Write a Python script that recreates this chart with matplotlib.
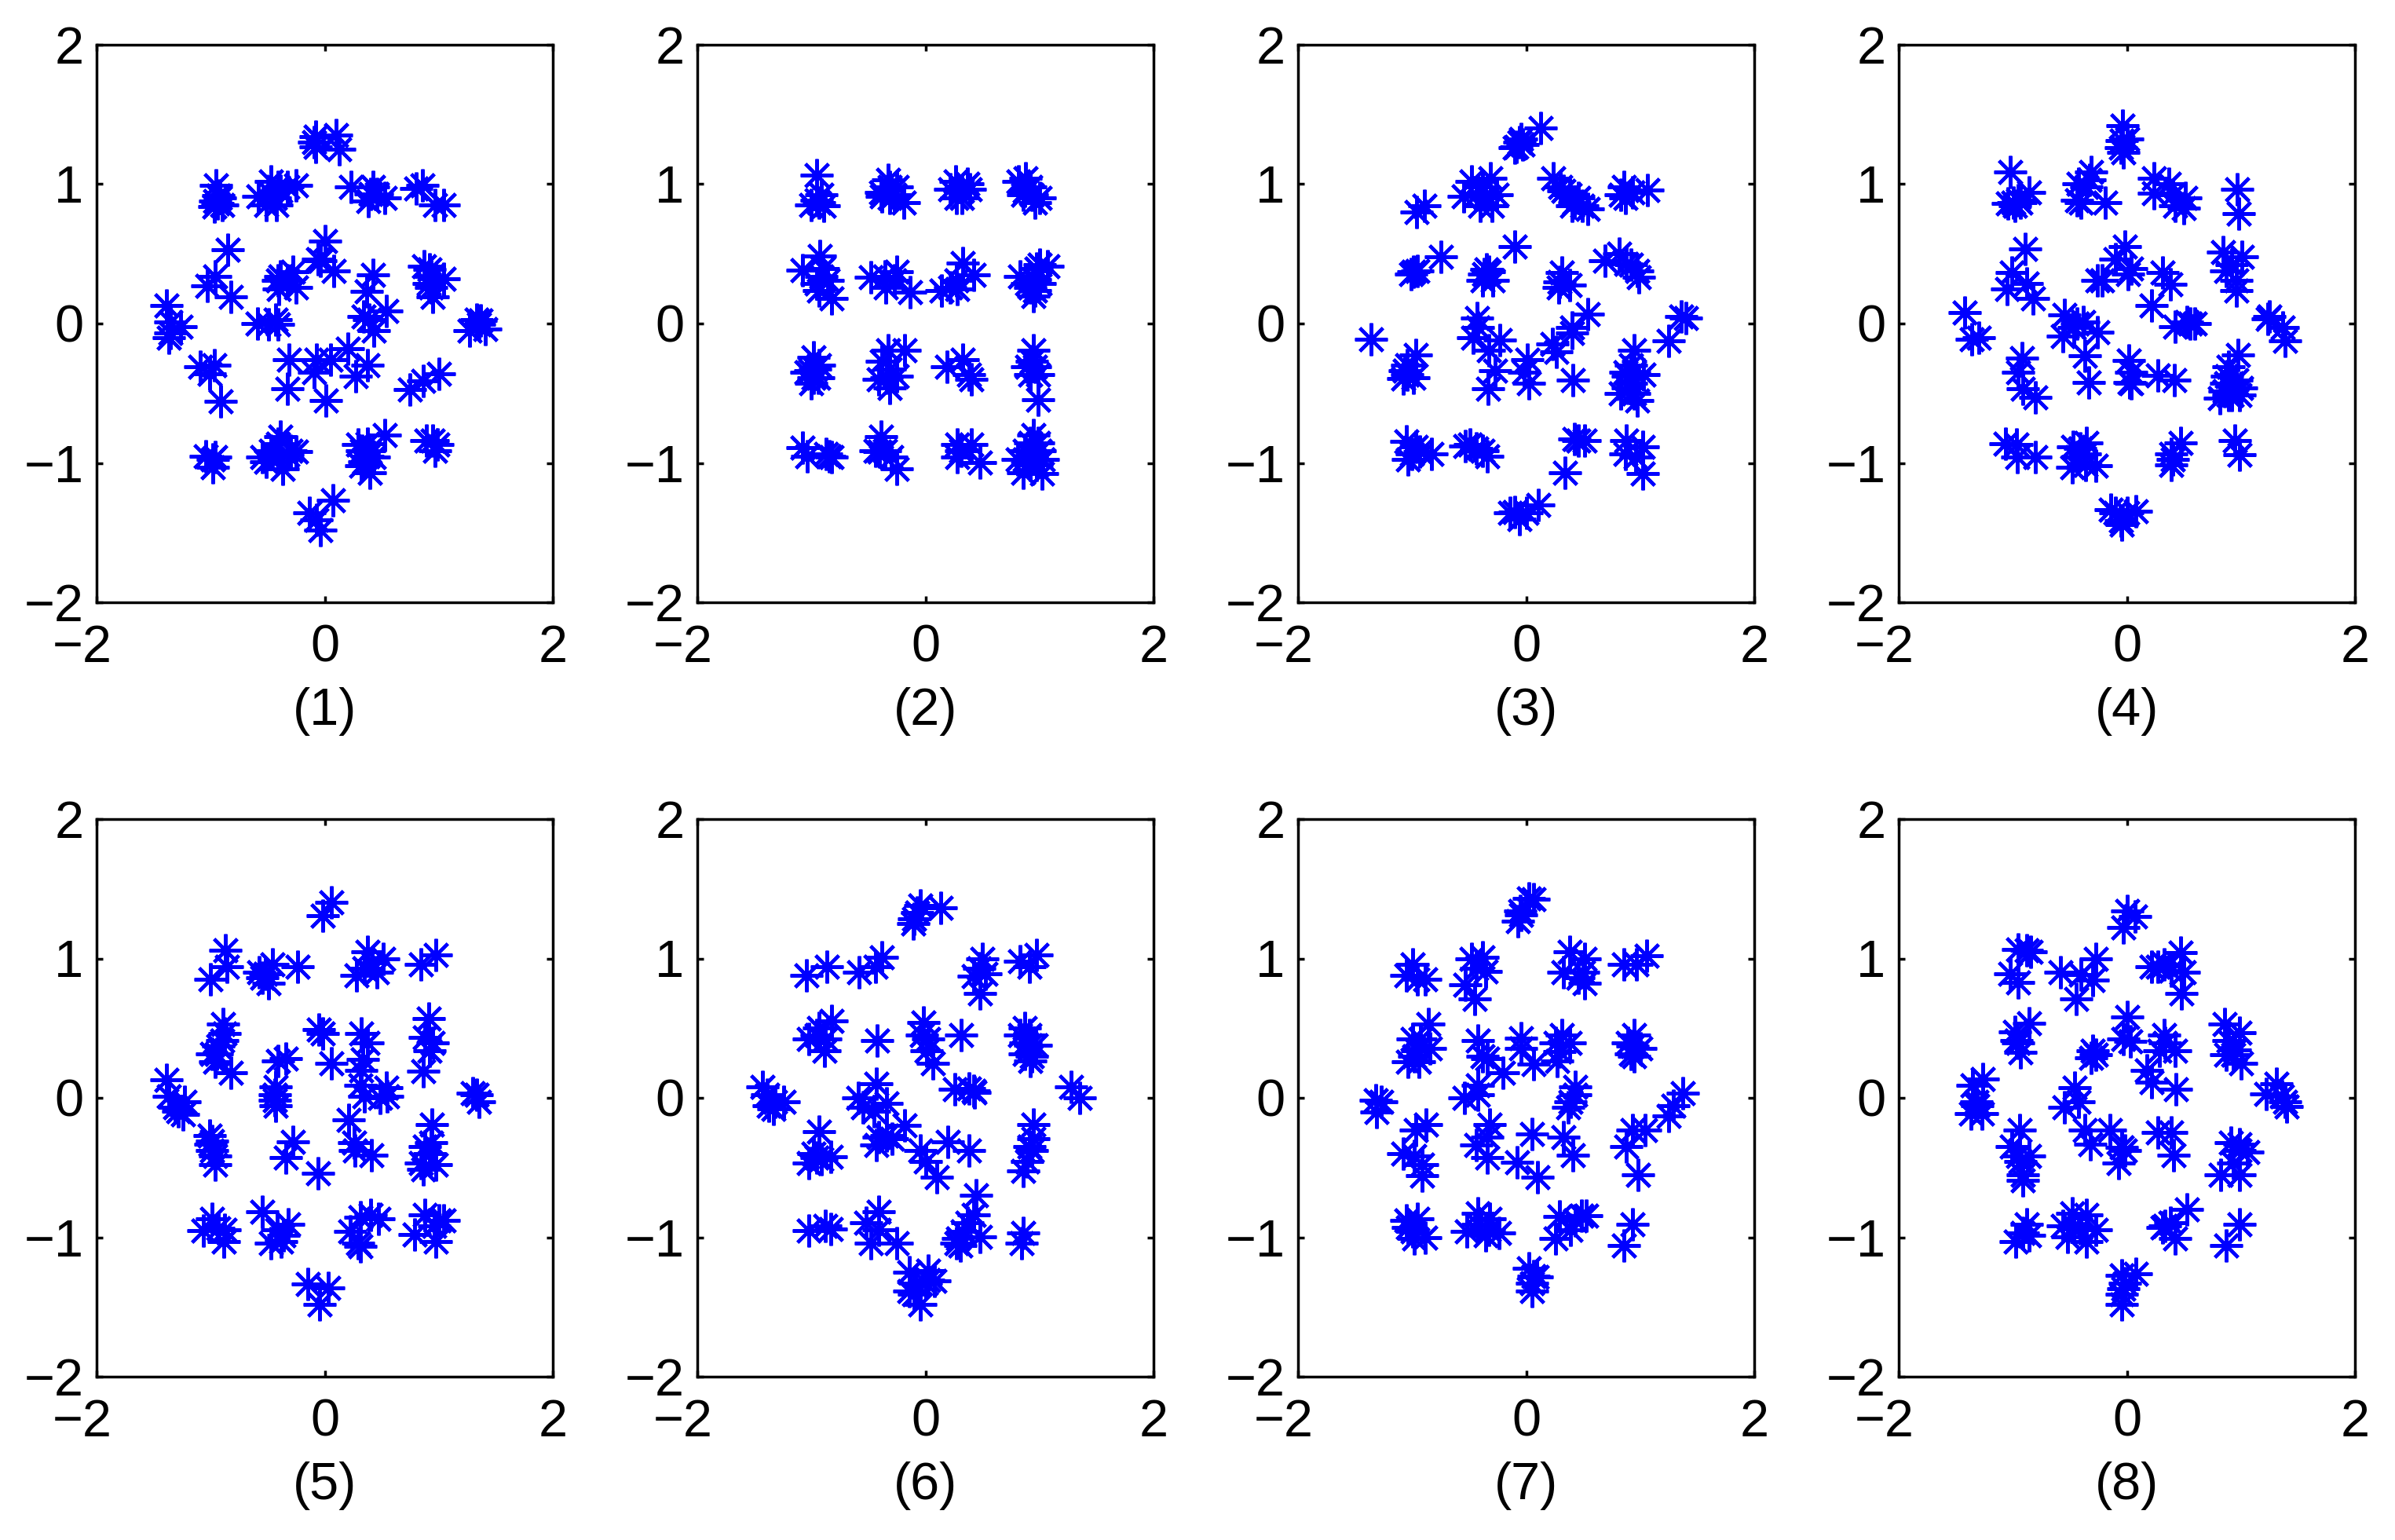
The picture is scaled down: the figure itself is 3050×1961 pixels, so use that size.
import matplotlib
matplotlib.use('Agg')
import matplotlib.pyplot as plt
from matplotlib.transforms import ScaledTranslation

plt.rcParams['font.family'] = ['Liberation Sans', 'DejaVu Sans']

# values, one (x, y) list per panel
panel_1 = [(-0.08,1.34),(-0.08,1.27),(0.10,1.35),(0.13,1.25),(-0.09,1.30),
    (-0.955,0.99),(-0.94,0.86),(-0.96,0.88),(-0.92,0.90),(-0.90,0.85),(-0.97,0.84),(-0.93,0.92),
    (-0.47,1.02),(-0.58,0.91),(-0.42,0.85),(-0.51,0.85),(-0.39,0.95),(-0.47,0.93),(-0.44,0.90),(-0.41,0.98),
    (-0.25,0.99),(-0.33,0.98),(0.23,0.98),(0.42,0.98),(0.38,0.88),(0.46,0.93),(0.53,0.90),(0.40,0.93),
    (0.80,0.97),(0.86,0.99),(0.97,0.85),(1.04,0.85),
    (-0.85,0.53),(-0.96,0.34),(-1.03,0.27),(-0.82,0.19),
    (-0.39,0.34),(-0.28,0.37),(-0.40,0.25),(-0.25,0.26),(-0.41,0.31),(-0.33,0.31),
    (0,0.59),(-0.04,0.45),(0.08,0.375),(-0.06,0.46),
    (0.42,0.35),(0.37,0.23),(0.54,0.09),(0.39,0.03),(0.43,-0.05),(0.34,0.05),
    (0.87,0.41),(0.92,0.39),(1.04,0.32),(0.93,0.26),(0.95,0.19),(0.93,0.34),(0.91,0.29),
    (1.37,0.02),(1.27,-0.05),(1.41,-0.04),(1.355,-0.005),(1.33,0.03),
    (-1.39,0.13),(-1.35,0.01),(-1.26,-0.02),(-1.37,-0.10),(-1.35,-0.07),
    (-0.59,0),(-0.43,0.03),(-0.41,-0.005),(-0.495,-0.005),
    (-0.31,-0.26),(-0.07,-0.26),(0.05,-0.26),(0.2,-0.18),(-0.09,-0.35),(0.375,-0.30),(0.275,-0.38),(-0.33,-0.47),(0.01,-0.55),
    (-1.09,-0.31),(-0.97,-0.30),(-1.01,-0.36),(-0.915,-0.555),
    (0.745,-0.475),(0.865,-0.41),(1.0,-0.36),
    (-1.04,-0.95),(-0.98,-0.975),(-0.98,-1.03),(-0.96,-0.96),
    (-0.39,-0.81),(-0.51,-0.99),(-0.37,-1.04),(-0.25,-0.92),(-0.47,-0.91),(-0.33,-0.94),(-0.41,-0.86),(-0.55,-0.96),(-0.30,-0.91),(-0.39,-0.96),
    (0.525,-0.80),(0.29,-0.87),(0.395,-1.07),(0.35,-0.99),(0.39,-0.91),(0.375,-0.86),(0.43,-0.96),(0.32,-1.02),(0.375,-0.95),(0.33,-0.91),
    (0.89,-0.84),(0.97,-0.91),(0.95,-0.84),(0.99,-0.87),
    (0.07,-1.27),(-0.135,-1.36),(-0.07,-1.41),(-0.04,-1.48)]

panel_2 = [(-0.955,1.065),(-0.93,0.87),(-1.0,0.85),(-0.89,0.845),(-0.955,0.885),(-0.915,0.925),
    (-0.315,0.98),(-0.38,0.91),(-0.19,0.87),(-0.25,0.98),(-0.33,1.03),(-0.39,0.94),(-0.275,0.925),(-0.315,0.90),
    (0.265,1.02),(0.32,0.95),(0.27,0.90),(0.365,1.0),(0.32,0.90),(0.39,0.965),(0.215,0.965),
    (0.88,1.045),(0.87,0.95),(0.96,0.87),(0.815,1.02),(0.92,0.98),(1.0,0.90),(0.855,0.925),(0.935,0.925),
    (-0.925,0.485),(-1.08,0.385),(-0.915,0.34),(-0.93,0.235),(-0.82,0.18),(-0.955,0.285),(-0.90,0.395),(-0.86,0.31),
    (-0.48,0.335),(-0.355,0.34),(-0.25,0.37),(-0.35,0.26),(-0.135,0.225),(-0.275,0.31),
    (0.14,0.235),(0.28,0.25),(0.33,0.435),(0.215,0.26),(0.42,0.35),(0.27,0.31),
    (0.83,0.34),(1.0,0.42),(1.07,0.41),(0.96,0.315),(0.95,0.195),(0.975,0.395),(0.92,0.26),(1.0,0.29),(0.96,0.235),(0.895,0.29),
    (-0.98,-0.245),(-1.01,-0.34),(-0.94,-0.39),(-0.98,-0.39),(-1.04,-0.35),(-0.97,-0.325),(-0.93,-0.30),(-1.0,-0.43),
    (-0.33,-0.19),(-0.18,-0.19),(-0.315,-0.325),(-0.41,-0.40),(-0.315,-0.46),(-0.38,-0.27),(-0.25,-0.38),(-0.34,-0.39),
    (0.19,-0.31),(0.325,-0.26),(0.405,-0.40),(0.38,-0.365),
    (0.95,-0.19),(0.935,-0.27),(0.99,-0.365),(0.895,-0.31),(0.96,-0.31),(0.92,-0.365),(0.985,-0.545),
    (-1.08,-0.89),(-1.035,-0.95),(-0.84,-0.95),(-0.82,-0.96),(-0.87,-0.935),
    (-0.39,-0.81),(-0.40,-0.92),(-0.30,-0.96),(-0.25,-1.04),(-0.44,-0.91),(-0.355,-0.91),
    (0.28,-0.87),(0.40,-0.865),(0.31,-0.91),(0.28,-0.96),(0.48,-0.995),
    (0.95,-0.80),(0.92,-0.855),(0.87,-0.975),(1.02,-1.075),(0.855,-1.07),(0.935,-0.935),(1.0,-0.91),(1.03,-0.975),(0.92,-1.015),(0.87,-0.91),(0.975,-1.015),(0.81,-0.975),(0.99,-0.855)]

panel_3 = [(0.13,1.40),(-0.045,1.325),(-0.085,1.27),(-0.06,1.30),(-0.10,1.26),(-0.03,1.285),
    (-0.96,0.80),(-0.89,0.845),
    (-0.48,1.02),(-0.315,1.045),(-0.55,0.91),(-0.385,0.98),(-0.40,0.845),(-0.30,0.845),(-0.26,0.925),(-0.44,0.925),(-0.355,0.90),
    (0.235,1.045),(0.325,0.95),(0.405,0.845),(0.54,0.825),(0.46,0.90),(0.38,0.925),(0.49,0.845),(0.30,0.98),(0.42,0.87),
    (0.855,0.98),(0.87,0.90),(0.935,0.94),(1.065,0.955),(0.83,0.925),
    (-0.75,0.48),(-0.99,0.37),(-1.01,0.355),(-0.955,0.38),
    (-0.35,0.39),(-0.385,0.31),(-0.29,0.31),(-0.33,0.37),(-0.37,0.355),(-0.10,0.55),
    (0.295,0.30),(0.285,0.26),(0.31,0.365),(0.38,0.275),
    (0.69,0.45),(0.815,0.50),(0.92,0.42),(0.99,0.33),(0.975,0.38),(0.88,0.43),
    (1.40,0.04),(1.25,-0.125),(1.36,0.05),
    (-1.36,-0.11),(-0.97,-0.225),(-1.04,-0.30),(-1.08,-0.395),(-0.99,-0.39),(-1.04,-0.365),(-1.065,-0.34),
    (-0.43,0.04),(-0.465,-0.10),(-0.425,-0.03),(-0.33,-0.19),(-0.23,-0.12),(-0.275,-0.34),(-0.335,-0.47),
    (0.01,-0.26),(-0.015,-0.35),(0.025,-0.43),(0.23,-0.145),(0.265,-0.205),(0.41,-0.405),
    (0.405,-0.03),(0.54,0.07),(0.405,-0.07),
    (0.945,-0.19),(0.92,-0.30),(1.03,-0.365),(0.895,-0.38),(0.83,-0.50),(0.975,-0.55),(0.895,-0.46),(0.95,-0.35),(0.87,-0.35),(0.92,-0.43),(0.95,-0.50),
    (-1.05,-0.845),(-0.97,-0.885),(-1.035,-0.975),(-0.83,-0.935),(-0.93,-0.92),(-1.0,-0.935),
    (-0.535,-0.88),(-0.49,-0.87),(-0.385,-0.91),(-0.34,-0.95),(-0.44,-0.895),
    (0.42,-0.83),(0.46,-0.84),(0.515,-0.84),(0.34,-1.07),
    (0.88,-0.84),(1.02,-0.885),(0.87,-0.935),(0.96,-0.96),(1.02,-1.075),
    (-0.10,-1.35),(-0.06,-1.40),(0.105,-1.30),(-0.14,-1.36),(0,-1.36)]

panel_4 = [(-0.04,1.42),(-0.045,1.31),(-0.055,1.26),(-0.03,1.23),(0,1.325),
    (-1.02,1.085),(-0.86,0.94),(-0.995,0.87),(-0.955,0.885),(-1.04,0.86),(-0.98,0.845),(-0.93,0.87),
    (-0.31,1.085),(-0.425,1.005),(-0.44,0.885),(-0.40,0.87),(-0.19,0.87),(-0.33,1.03),(-0.355,0.98),
    (0.235,1.045),(0.235,0.935),(0.365,1.005),(0.42,0.845),(0.50,0.83),(0.515,0.90),(0.405,0.925),
    (0.97,0.965),(0.98,0.79),
    (-0.895,0.535),(-1.01,0.365),(-0.88,0.285),(-1.05,0.25),(-0.82,0.18),
    (-0.015,0.55),(-0.10,0.46),(0.04,0.395),(0.01,0.355),(-0.22,0.31),(-0.26,0.31),(0.31,0.365),(0.38,0.28),(0.22,0.13),
    (0.42,-0.02),(0.555,0),(0.53,0.01),(0.595,0),
    (0.845,0.51),(1.01,0.48),(0.87,0.38),(0.96,0.31),(0.96,0.235),(0.92,0.42),
    (1.25,0.05),(1.37,-0.03),(1.39,-0.125),(1.235,0.035),
    (-1.425,0.08),(-1.36,-0.11),(-1.295,-0.10),
    (-0.55,0.06),(-0.385,0.01),(-0.56,-0.09),(-0.26,-0.06),(-0.465,-0.03),(-0.44,0),(-0.37,-0.23),(-0.335,-0.425),
    (-0.92,-0.25),(-0.955,-0.35),(-0.915,-0.47),(-0.805,-0.53),
    (0.02,-0.265),(0.04,-0.35),(0.04,-0.43),(0.025,-0.42),(0.27,-0.37),(0.415,-0.405),
    (0.975,-0.225),(0.88,-0.38),(0.815,-0.535),(0.99,-0.51),(0.895,-0.31),(0.92,-0.43),(0.855,-0.485),(1.0,-0.46),(0.92,-0.51),(0.96,-0.405),(0.87,-0.43),(0.895,-0.51),
    (-1.065,-0.86),(-0.97,-0.87),(-0.96,-0.96),(-0.80,-0.955),
    (-0.47,-0.885),(-0.41,-0.895),(-0.48,-1.03),(-0.36,-1.015),(-0.37,-0.935),(-0.275,-1.02),(-0.44,-0.96),(-0.355,-0.855),
    (0.475,-0.855),(0.39,-0.935),(0.39,-1.015),(0.405,-0.975),
    (0.95,-0.84),(0.99,-0.94),
    (-0.14,-1.335),(-0.055,-1.415),(0.08,-1.345),(-0.045,-1.44),(-0.10,-1.36),(0,-1.36)]

panel_5 = [(0.06,1.405),(-0.02,1.305),
    (-0.87,1.06),(-0.86,0.94),(-1.0,0.85),
    (-0.455,0.96),(-0.575,0.90),(-0.495,0.82),(-0.52,0.89),(-0.55,0.86),(-0.235,0.94),
    (0.375,1.05),(0.51,0.995),(0.28,0.88),(0.46,0.90),(0.415,0.97),(0.35,0.93),
    (0.845,0.955),(0.975,1.025),
    (-0.895,0.53),(-0.875,0.46),(-0.93,0.37),(-0.96,0.26),(-0.82,0.18),(-0.945,0.315),(-0.90,0.41),(-0.985,0.315),
    (-0.34,0.28),(-0.41,0.265),(-0.43,0.08),(-0.435,0.025),(-0.43,-0.055),(-0.44,-0.015),
    (-0.05,0.49),(-0.02,0.46),(0.06,0.25),
    (0.32,0.46),(0.375,0.395),(0.335,0.275),(0.32,0.195),(0.35,0.01),(0.54,0.075),(0.55,0.01),(0.31,0.09),(0.485,0),
    (0.91,0.57),(0.88,0.435),(0.945,0.395),(0.92,0.34),(0.865,0.19),
    (1.33,0.025),(1.30,0.035),(1.355,-0.03),
    (-1.39,0.13),(-1.365,0.01),(-1.23,-0.03),(-1.285,-0.095),(-1.31,-0.07),(-1.245,-0.12),
    (0.21,-0.16),(0.26,-0.32),(0.265,-0.375),(0.41,-0.41),
    (-1.01,-0.27),(-0.985,-0.31),(-0.985,-0.375),(-0.96,-0.48),(-1.0,-0.335),(-0.96,-0.415),
    (-0.28,-0.315),(-0.34,-0.43),(-0.06,-0.54),
    (0.94,-0.19),(0.88,-0.35),(0.92,-0.40),(0.865,-0.51),(0.975,-0.48),(0.84,-0.47),(0.935,-0.32),
    (-0.985,-0.87),(-1.065,-0.95),(-0.875,-0.945),(-0.885,-1.03),(-0.93,-0.935),
    (-0.55,-0.815),(-0.47,-1.04),(-0.415,-0.945),(-0.32,-0.905),(-0.385,-1.03),(-0.36,-0.985),
    (0.31,-0.855),(0.40,-0.84),(0.47,-0.87),(0.225,-0.96),(0.31,-1.065),(0.295,-1.04),
    (0.88,-0.84),(0.785,-0.98),(0.975,-1.03),(1.0,-0.88),(1.04,-0.88),(0.96,-0.92),
    (-0.145,-1.335),(0.03,-1.365),(-0.045,-1.48)]

panel_6 = [(-0.045,1.38),(0.135,1.365),(-0.10,1.285),(-0.11,1.25),(-0.07,1.33),
    (-1.045,0.88),(-0.865,0.94),(-0.58,0.90),(-0.44,0.94),(-0.385,1.01),
    (0.50,0.995),(0.475,0.93),(0.42,0.875),(0.53,0.89),(0.48,0.75),
    (0.83,0.98),(0.91,0.94),(0.975,1.025),
    (-0.82,0.55),(-0.93,0.50),(-1.02,0.42),(-0.955,0.45),(-0.885,0.34),(-0.875,0.42),
    (-0.42,0.41),
    (-0.02,0.54),(-0.03,0.45),(0.025,0.42),(0.01,0.34),(0.065,0.25),(0.315,0.45),
    (0.87,0.50),(0.91,0.45),(0.92,0.38),(0.87,0.315),(0.92,0.265),(0.965,0.38),(0.83,0.45),(0.88,0.395),(0.935,0.30),
    (1.275,0.08),(1.35,0),
    (-1.43,0.08),(-1.39,0.025),(-1.24,-0.03),(-1.335,-0.08),(-1.32,-0.03),(-1.375,-0.055),
    (-0.43,0.10),(-0.59,0),(-0.34,-0.04),(-0.55,-0.07),(-0.45,-0.095),(0.26,0.06),(0.42,0.05),(0.43,0.04),(0.38,0.065),
    (-0.18,-0.195),(-0.43,-0.34),(-0.41,-0.28),(-0.29,-0.295),(-0.34,-0.27),(-0.045,-0.375),(0,-0.455),(0.10,-0.57),(0.195,-0.315),(0.38,-0.375),
    (-0.93,-0.24),(-1.02,-0.47),(-0.955,-0.43),(-0.83,-0.42),(-0.915,-0.44),(-0.98,-0.40),
    (0.945,-0.19),(0.95,-0.295),(0.91,-0.35),(0.895,-0.455),(0.855,-0.525),(0.935,-0.375),
    (0.445,-0.70),(0.42,-0.84),(0.365,-0.895),(0.285,-1.01),(0.305,-1.06),(0.48,-0.995),(0.325,-0.96),(0.27,-1.04),
    (0.86,-0.97),(0.84,-1.045),
    (-1.02,-0.95),(-0.875,-0.92),(-0.83,-0.94),
    (-0.41,-0.815),(-0.52,-0.895),(-0.41,-0.945),(-0.48,-1.04),(-0.25,-1.04),
    (0.025,-1.24),(-0.14,-1.25),(0.08,-1.315),(-0.14,-1.385),(-0.045,-1.48),(0,-1.33),(-0.085,-1.33),(0.025,-1.305),(-0.10,-1.41)]

panel_7 = [(0.065,1.425),(-0.055,1.34),(-0.07,1.27),(-0.045,1.31),(0.025,1.43),
    (-0.995,0.955),(-0.955,0.85),(-1.05,0.88),(-0.885,0.85),
    (-0.48,1.0),(-0.385,1.01),(-0.355,0.905),(-0.535,0.81),(-0.45,0.71),(-0.44,0.93),
    (0.38,1.05),(0.515,0.995),(0.325,0.90),(0.50,0.90),(0.515,0.82),(0.46,0.86),
    (0.855,0.955),(0.97,0.96),(1.055,1.02),
    (-0.86,0.53),(-0.995,0.42),(-0.955,0.34),(-1.035,0.26),(-0.845,0.355),(-0.925,0.42),(-0.98,0.30),(-0.94,0.26),
    (-0.42,0.41),(-0.385,0.30),(-0.34,0.28),(-0.20,0.18),(-0.045,0.43),(-0.045,0.355),(0.065,0.24),
    (0.315,0.45),(0.38,0.395),(0.255,0.395),(0.27,0.265),(0.295,0.33),
    (0.95,0.45),(0.935,0.37),(0.95,0.30),(0.895,0.395),(1.0,0.355),(0.92,0.315),
    (1.375,0.035),(1.29,-0.055),(1.25,-0.13),
    (-1.32,-0.015),(-1.27,-0.03),(-1.31,-0.10),
    (-0.425,0.09),(-0.54,0),(-0.425,0.02),
    (0.43,0.025),(0.39,-0.03),(0.37,-0.07),(0.43,0.08),
    (-0.875,-0.19),(-0.97,-0.23),(-1.08,-0.40),(-0.98,-0.415),(-0.915,-0.56),(-0.915,-0.48),
    (-0.32,-0.19),(-0.34,-0.28),(-0.44,-0.34),(-0.34,-0.43),(-0.08,-0.46),(0.055,-0.26),(0.10,-0.57),(0.325,-0.28),(0.41,-0.41),
    (0.935,-0.23),(1.04,-0.23),(0.875,-0.35),(0.98,-0.55),
    (-1.05,-0.88),(-0.955,-0.87),(-0.98,-1.01),(-0.885,-1.0),(-1.035,-0.93),(-0.995,-0.96),
    (-0.425,-0.83),(-0.52,-0.96),(-0.32,-0.87),(-0.355,-0.985),(-0.235,-0.97),(-0.425,-0.905),(-0.33,-0.945),
    (0.295,-0.85),(0.255,-1.01),(0.39,-0.945),(0.485,-0.845),(0.43,-0.88),(0.53,-0.845),
    (0.935,-0.905),(0.86,-1.06),
    (0.025,-1.225),(0.05,-1.33),(0.09,-1.285),(0.05,-1.385),(0.065,-1.28)]

panel_8 = [(0,1.34),(0.075,1.30),(-0.03,1.225),
    (-0.955,1.065),(-0.875,1.06),(-1.02,0.89),(-0.955,0.83),(-0.845,1.05),
    (-0.58,0.90),(-0.27,0.995),(-0.40,0.885),(-0.30,0.845),(-0.445,0.71),
    (0.27,0.94),(0.215,0.94),(0.475,1.045),(0.50,0.90),(0.39,0.915),(0.325,0.955),(0.48,0.75),
    (-0.86,0.535),(-0.98,0.475),(-0.955,0.395),(-0.93,0.325),(-0.97,0.41),
    (0,0.58),(-0.03,0.425),(0.03,0.405),
    (-0.275,0.31),(-0.315,0.29),(-0.30,0.34),
    (0.325,0.45),(0.335,0.395),(0.285,0.34),(0.42,0.34),(0.175,0.20),(0.22,0.115),(0.43,0.06),
    (0.855,0.53),(0.99,0.47),(0.895,0.41),(0.935,0.31),(1.0,0.25),(0.87,0.31),(0.95,0.345),
    (1.31,0.10),(1.22,0.03),(1.385,-0.03),(1.40,-0.06),(1.36,0.01),
    (-1.26,0.135),(-1.35,0.09),(-1.31,-0.055),(-1.365,-0.115),(-1.27,-0.11),(-1.32,-0.03),
    (-0.46,0.075),(-0.55,-0.07),(-0.425,-0.03),
    (-0.37,-0.23),(-0.145,-0.23),(-0.32,-0.33),(-0.045,-0.355),(-0.075,-0.47),(-0.015,-0.375),
    (0.27,-0.25),(0.39,-0.25),(0.41,-0.41),
    (-0.94,-0.23),(-1.01,-0.35),(-0.86,-0.415),(-0.915,-0.55),(-0.915,-0.59),(-0.93,-0.455),(-0.955,-0.415),
    (0.91,-0.32),(0.99,-0.335),(1.06,-0.39),(0.99,-0.375),(0.82,-0.55),(0.99,-0.55),(0.935,-0.47),
    (-0.88,-0.905),(-0.915,-0.97),(-0.975,-1.03),(-0.86,-0.985),
    (-0.48,-0.83),(-0.355,-0.84),(-0.52,-0.995),(-0.355,-1.03),(-0.275,-0.945),(-0.465,-0.92),(-0.41,-0.935),(-0.56,-0.92),
    (0.38,-0.895),(0.335,-0.92),(0.425,-1.01),(0.53,-0.80),(0.31,-0.93),
    (0.99,-0.905),(0.87,-1.06),
    (0.08,-1.26),(-0.045,-1.275),(-0.015,-1.33),(-0.045,-1.48),(-0.045,-1.41),(-0.03,-1.37)]

panels = [panel_1, panel_2, panel_3, panel_4, panel_5, panel_6, panel_7, panel_8]
panel_labels = ["(1)", "(2)", "(3)", "(4)", "(5)", "(6)", "(7)", "(8)"]
ticks = [-2, 0, 2]
y_ticks = [-2, -1, 0, 1, 2]

W, H = 3050, 1961
lefts = [123, 888, 1653, 2418]
tops = [57, 1043]
ax_w, ax_h = 581, 710

fig = plt.figure(figsize=(W / 100, H / 100), dpi=100)

for i, pts in enumerate(panels):
    left = lefts[i % 4]
    top = tops[i // 4]
    ax = fig.add_axes([left / W, 1 - (top + ax_h) / H, ax_w / W, ax_h / H])
    xs, ys = zip(*pts)
    ax.plot(xs, ys, linestyle='none', marker=(8, 2, 0), markersize=30,
            markeredgewidth=3.0, color='#0000ff')
    ax.set_xlim(-2, 2)
    ax.set_ylim(-2, 2)
    ax.set_xticks(ticks)
    ax.set_yticks(y_ticks)
    ax.tick_params(direction='in', length=6, width=2.5, top=True, right=True, labelsize=48)
    ax.tick_params(axis='x', pad=20)
    ax.tick_params(axis='y', pad=12)
    for s in ax.spines.values():
        s.set_linewidth(2.5)
    ax.set_xlabel(panel_labels[i], fontsize=48, labelpad=13)
    # the -2 on the x axis sits left of its tick in the original
    first = ax.get_xticklabels()[0]
    first.set_transform(first.get_transform() + ScaledTranslation(-18 / 100, 0, fig.dpi_scale_trans))

fig.savefig("out.png", dpi=100)
